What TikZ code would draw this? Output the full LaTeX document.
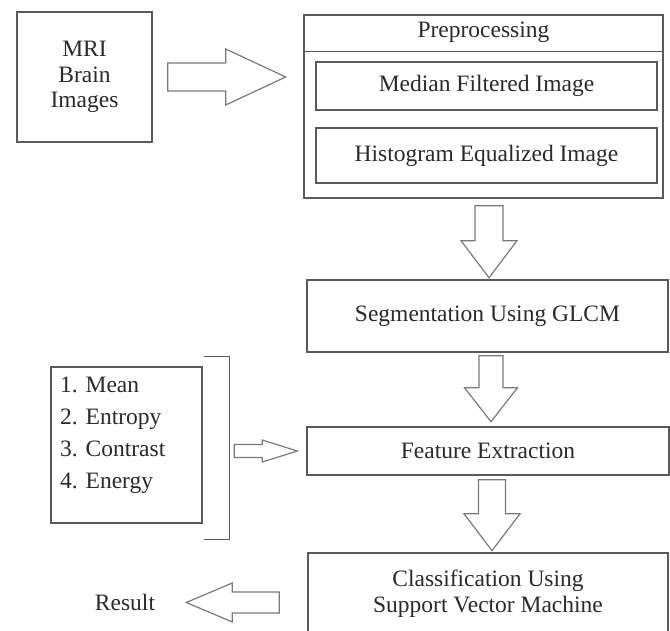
\documentclass[tikz,border=0pt]{standalone}
\usepackage{fontspec}
\setmainfont{Liberation Serif}
\usetikzlibrary{calc}

\definecolor{boxline}{HTML}{5A5A5A}
\definecolor{arrline}{HTML}{7A7A7A}
\definecolor{txt}{HTML}{2A2A2A}

\tikzset{
  box/.style={draw=boxline, line width=1.4pt, rectangle, inner sep=0pt,
              text=txt, font=\fontsize{23.5}{25.5}\selectfont, align=center},
  plain/.style={text=txt, font=\fontsize{23.5}{25.5}\selectfont, inner sep=0pt},
  barrow/.style={draw=arrline, line width=1.2pt, fill=white, line join=miter},
  % hollow block arrow pointing along local +x:
  % #1 length, #2 shaft half-width, #3 head half-width, #4 head length
  pics/blockarrow/.style n args={4}{code={
    \draw[barrow] (0,-#2) -- ({#1-#4},-#2) -- ({#1-#4},-#3) -- (#1,0)
      -- ({#1-#4},#3) -- ({#1-#4},#2) -- (0,#2) -- cycle;
  }}
}

\begin{document}
\begin{tikzpicture}[x=1pt, y=-1pt]
\useasboundingbox (0,0) rectangle (670,631);
\clip (0,0) rectangle (670,631);

% input
\node[box, minimum width=135pt, minimum height=130pt] (mri) at (84.5,77)
  {MRI\\Brain\\Images};

% preprocessing block with header
\node[box, minimum width=359pt, minimum height=183pt] (pre) at (483.5,106.5) {};
\draw[boxline, line width=1.4pt] ($(pre.north west)+(0,37)$) -- ($(pre.north east)+(0,37)$);
\node[plain] (pretitle) at (483.5,32) {Preprocessing};
\node[box, minimum width=341pt, minimum height=48pt] (med) at (486.5,86)
  {Median Filtered Image};
\node[box, minimum width=341pt, minimum height=55pt] (hist) at (486.5,155.5)
  {Histogram Equalized Image};

% processing chain
\node[box, minimum width=361pt, minimum height=72pt] (seg) at (487.5,316)
  {Segmentation Using GLCM};
\node[box, minimum width=362pt, minimum height=48pt] (feat) at (488,451)
  {Feature Extraction};
\node[box, minimum width=360pt, minimum height=81pt] (cls) at (488,593.5)
  {Classification Using\\Support Vector Machine};

% feature list with bracket
\node[box, minimum width=151pt, minimum height=156pt] (listbox) at (126.5,445) {};
\node[plain, anchor=west, align=left, font=\fontsize{23.5}{32}\selectfont] (listtext)
  at (60,435) {1. Mean\\2. Entropy\\3. Contrast\\4. Energy};
\draw[boxline, line width=1.4pt] ($(listbox.north east)+(1,-10)$) -- ++(26,0)
  -- ($(listbox.south east)+(27,16)$) -- ++(-26,0);

% output
\node[plain] (res) at (125,602) {Result};

% block arrows
\path ($(mri.east)+(15,0)$) pic {blockarrow={118}{14}{28}{60}};
\path ($(pre.south)+(5.5,7)$) pic[rotate=-90] {blockarrow={72}{14}{28}{37}};
\path ($(seg.south)+(3.5,3)$) pic[rotate=-90] {blockarrow={66}{12}{26.5}{34}};
\path ($(feat.south)+(4,4)$) pic[rotate=-90] {blockarrow={71}{13.5}{28}{37}};
\path ($(feat.west)+(-72,0)$) pic {blockarrow={63}{6.5}{11}{35}};
\path ($(cls.west)+(-28,9)$) pic[rotate=180] {blockarrow={93}{10.5}{19.5}{46}};
\end{tikzpicture}
\end{document}
